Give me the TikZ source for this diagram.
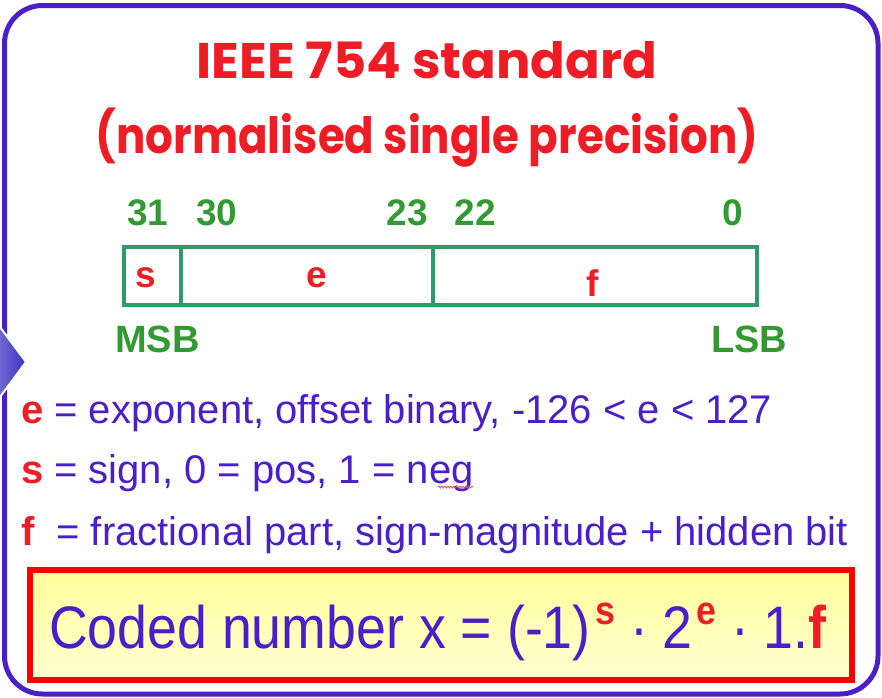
\documentclass[tikz,border=0pt]{standalone}
\usepackage{fontspec}
\setmainfont{Liberation Sans}
\newfontfamily\titlefont{Poppins}
\usetikzlibrary{decorations.pathmorphing}
\definecolor{framec}{HTML}{4A1EC8}
\definecolor{titlec}{HTML}{EE1C24}
\definecolor{numc}{HTML}{339933}
\definecolor{boxc}{HTML}{33996A}
\definecolor{bodyc}{HTML}{4A1EC8}
\definecolor{redc}{HTML}{EE1C24}
\definecolor{yeltop}{HTML}{FFFF99}
\definecolor{yelbot}{HTML}{FFFFD4}
\definecolor{arrowl}{HTML}{A8A8E8}
\definecolor{arrowr}{HTML}{3A30C0}
\tikzset{
  txt/.style={inner sep=0pt, outer sep=0pt},
  titletxt/.style={txt, anchor=base, text=titlec, font=\titlefont\bfseries\fontsize{50}{50}\selectfont},
  bitnum/.style={txt, anchor=base, text=numc, font=\bfseries\fontsize{37}{37}\selectfont},
  fieldtxt/.style={txt, anchor=base, text=redc, font=\bfseries\fontsize{37}{37}\selectfont},
  bodytxt/.style={txt, anchor=base west, text=bodyc, font=\fontsize{40}{40}\selectfont},
  fieldbox/.style={draw=boxc, line width=4pt, inner sep=0pt, outer sep=0pt},
}
\newcommand{\rb}[1]{{\bfseries\color{redc}#1}}
\newcommand{\supr}[1]{\raisebox{24pt}{\fontsize{40}{40}\selectfont\rb{#1}}}
\begin{document}
\begin{tikzpicture}[x=1pt,y=-1pt]
\useasboundingbox (0,0) rectangle (882,697);
% outer frame
\draw[framec, line width=5pt, rounded corners=38pt] (4.5,5.5) rectangle (878,694);
% left pointer
\begin{scope}
\clip (0,0) rectangle (882,697);
\shade[left color=arrowl, right color=arrowr, draw=white, line width=2pt]
  (-30,362) -- (0,327) -- (26,362) -- (0,397) -- cycle;
\end{scope}
% title
\node[titletxt] (t1) at (427,78) {\scalebox{1.025}[1]{IEEE 754 standard}};
\node[titletxt] (t2) at (427,153) {\scalebox{0.872}[1]{(normalised single precision)}};
% bit numbers
\node[bitnum] (n31) at (148,225) {31};
\node[bitnum] (n30) at (217,225) {30};
\node[bitnum] (n23) at (407,225) {23};
\node[bitnum] (n22) at (475,225) {22};
\node[bitnum] (n0) at (733,225) {0};
% fields
\draw[fieldbox] (124,247) rectangle (757,305);
\draw[fieldbox] (181,247) -- (181,305);
\draw[fieldbox] (433,247) -- (433,305);
\node[fieldtxt] (fs) at (146,287) {s};
\node[fieldtxt] (fe) at (317,287) {e};
\node[fieldtxt] (ff) at (593,296) {f};
\node[txt, anchor=base west, text=numc, font=\bfseries\fontsize{38}{38}\selectfont] (msb) at (115,352) {MSB};
\node[txt, anchor=base east, text=numc, font=\bfseries\fontsize{38}{38}\selectfont] (lsb) at (787,352) {LSB};
% descriptions
\node[bodytxt] (d1) at (21,423) {\rb{e} = exponent, offset binary, -126 < e < 127};
\node[bodytxt] (d2) at (21,483) {\rb{s} = sign, 0 = pos, 1 = neg};
\node[bodytxt] (d3) at (21,545) {\rb{f}\ \ = fractional part, sign-magnitude + hidden bit};
\draw[red!70, line width=0.8pt, decorate, decoration={snake, amplitude=1pt, segment length=3pt}] (438,487) -- (473,487);
% formula box
\draw[draw=red, line width=6pt, top color=yeltop, bottom color=yelbot] (30,570) rectangle (852,680);
\node[txt, anchor=base west, text=bodyc, font=\fontsize{60}{60}\selectfont] (fx) at (49,648)
 {\scalebox{0.895}[1]{Coded number x = (-1)\hspace{5pt}\supr{s} · 2\hspace{4pt}\supr{e} · 1.\rb{f}}};
\end{tikzpicture}
\end{document}
